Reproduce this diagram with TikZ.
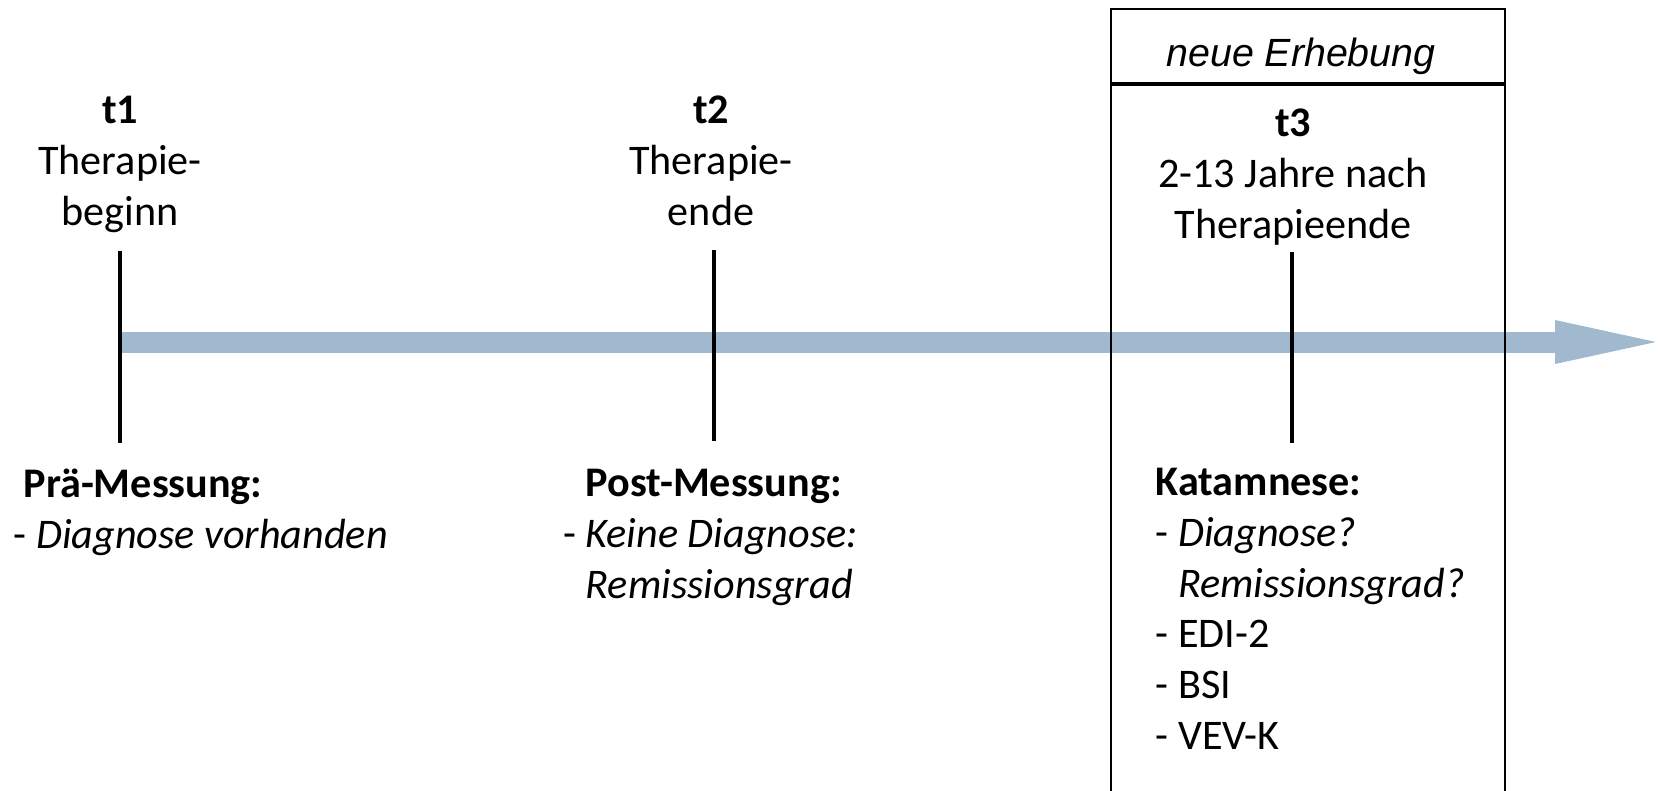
\documentclass[tikz,border=0pt]{standalone}
\usepackage{fontspec}
\setmainfont{Carlito}
\newfontfamily\arialfont{Liberation Sans}
\usetikzlibrary{arrows.meta}
\definecolor{zeitblau}{RGB}{161,185,207}

\begin{document}
\begin{tikzpicture}[x=1cm,y=1cm,
  txt/.style={inner sep=0pt, font=\fontsize{12pt}{14.4pt}\selectfont},
  marke/.style={line width=1.1pt},
]
\useasboundingbox (0,0) rectangle (16.59,-7.91);
% zeitstrahl
\coordinate (start) at (1.20,-3.42);
\coordinate (spitze) at (16.56,-3.42);
\draw[zeitblau, line width=0.21cm, -{Triangle[length=1.01cm, width=0.44cm, line width=0pt]}] (start) -- (spitze);

% messzeitpunkte (base = letzte zeile)
\node[txt, align=center, anchor=base] (t1) at (1.20,-2.25) {\textbf{t1}\\Therapie-\\beginn};
\node[txt, align=center, anchor=base] (t2) at (7.11,-2.25) {\textbf{t2}\\Therapie-\\ende};
\node[txt, align=center, anchor=base] (t3) at (12.93,-2.38) {\textbf{t3}\\2-13 Jahre nach\\Therapieende};

\coordinate (t1o) at (1.20,-2.51);
\coordinate (t1u) at (1.20,-4.43);
\coordinate (t2o) at (7.14,-2.50);
\coordinate (t2u) at (7.14,-4.41);
\coordinate (t3o) at (12.92,-2.52);
\coordinate (t3u) at (12.92,-4.43);
\draw[marke] (t1o) -- (t1u);
\draw[marke] (t2o) -- (t2u);
\draw[marke] (t3o) -- (t3u);

% messungen
\node[txt, align=left, anchor=base west] (prae) at (0.13,-5.48)
  {\hspace*{0.1cm}\textbf{Prä-Messung:}\\- \textit{Diagnose vorhanden}};
\node[txt, align=left, anchor=base west] (post) at (5.85,-5.98)
  {\textbf{Post-Messung:}\\\llap{- }\textit{Keine Diagnose:}\\\textit{Remissionsgrad}};
\node[txt, align=left, anchor=base west] (kat) at (11.55,-7.49)
  {\textbf{Katamnese:}\\- \textit{Diagnose?}\\\phantom{- }\textit{Remissionsgrad?}\\- EDI-2\\- BSI\\- VEV-K};

% neue erhebung
\node[inner sep=0pt, anchor=base, font=\arialfont\fontsize{11.2pt}{12pt}\selectfont] (neu) at (13.01,-0.67) {\textit{neue Erhebung}};
\draw[line width=0.6pt] (11.11,-7.95) |- (15.05,-0.09) -- (15.05,-7.95);
\draw[line width=0.9pt] (11.11,-0.84) -- (15.05,-0.84);
\end{tikzpicture}
\end{document}
